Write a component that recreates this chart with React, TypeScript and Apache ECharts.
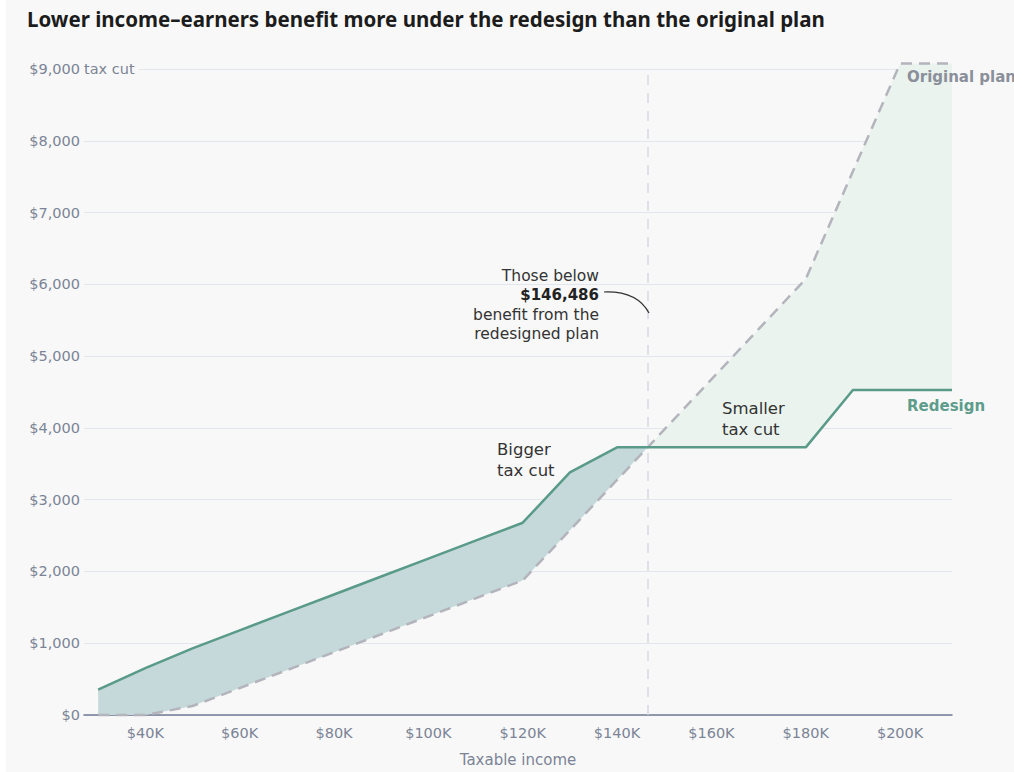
import React, { useEffect, useRef } from "react";
import * as echarts from "echarts";

const incomes = [30000, 40000, 50000, 60000, 70000, 80000, 90000, 100000, 110000, 120000, 130000, 140000, 146486, 150000, 160000, 170000, 180000, 190000, 200000, 211000];
const redesign = [354, 654, 929, 1179, 1429, 1679, 1929, 2179, 2429, 2679, 3379, 3729, 3729, 3729, 3729, 3729, 3729, 4529, 4529, 4529];
const original = [0, 0, 125, 375, 625, 875, 1125, 1375, 1625, 1875, 2575, 3275, 3729, 3975, 4675, 5375, 6075, 7575, 9075, 9075];
const xTicks = [40000, 60000, 80000, 100000, 120000, 140000, 160000, 180000, 200000];
const crossover = 146486;
const regionColors = ["#c5d9da", "#eaf3ee"];

export default function App() {
  const ref = useRef<HTMLDivElement>(null);
  useEffect(() => {
    document.body.style.margin = "0";
    const chart = echarts.init(ref.current!, null, { renderer: "svg" });
    const pair = (arr: number[]) => incomes.map((x, i) => [x, arr[i]]);
    const crossIdx = incomes.indexOf(crossover);
    const font = "'DejaVu Sans', sans-serif";
    chart.setOption({
      animation: false,
      backgroundColor: "#f8f8f8",
      grid: { left: 84, right: 62, top: 69, bottom: 56, containLabel: false },
      title: {
        text: "Lower income\u2013earners benefit more under the redesign than the original plan",
        left: 22,
        top: 3,
        textStyle: { fontFamily: "'Noto Sans', sans-serif", fontSize: 20.5, fontWeight: "bold", color: "#1c1c1c" },
      },
      xAxis: {
        type: "value",
        min: 27000,
        max: 211000,
        name: "Taxable income",
        nameLocation: "middle",
        nameGap: 37,
        nameTextStyle: { fontFamily: font, fontSize: 15, color: "#7b8496" },
        axisLine: { show: true, onZero: true, lineStyle: { color: "#6f7a92", width: 1.5 } },
        axisTick: { show: false },
        splitLine: { show: false },
        axisLabel: {
          customValues: xTicks,
          formatter: (v: number) => "$" + Math.round(v / 1000) + "K",
          fontFamily: font,
          fontSize: 14.5,
          color: "#7b8496",
          margin: 10,
        },
      },
      yAxis: {
        type: "value",
        min: 0,
        max: 9000,
        interval: 1000,
        axisLine: { show: false },
        axisTick: { show: false },
        splitLine: { lineStyle: { color: "#e2e6ed", width: 1.2 } },
        axisLabel: {
          formatter: (v: number) => "$" + v.toLocaleString("en-US"),
          fontFamily: font,
          fontSize: 14.5,
          color: "#7b8496",
          margin: 4,
        },
      },
      series: [
        {
          type: "custom",
          name: "gap",
          silent: true,
          data: [[incomes[0], 0], [crossover, 0]],
          encode: { x: 0, y: 1 },
          z: 2,
          renderItem: (params: any, api: any) => {
            const idx = params.dataIndex;
            const pts: number[][] = [];
            if (idx === 0) {
              for (let i = 0; i <= crossIdx; i++) pts.push(api.coord([incomes[i], redesign[i]]));
              for (let i = crossIdx; i >= 0; i--) pts.push(api.coord([incomes[i], original[i]]));
            } else {
              for (let i = crossIdx; i < incomes.length; i++) pts.push(api.coord([incomes[i], original[i]]));
              for (let i = incomes.length - 1; i >= crossIdx; i--) pts.push(api.coord([incomes[i], redesign[i]]));
            }
            return {
              type: "polygon",
              shape: { points: pts },
              style: { fill: regionColors[idx], stroke: "none" },
            };
          },
        },
        {
          type: "line",
          name: "Original plan",
          data: pair(original),
          symbol: "none",
          lineStyle: { color: "#b3b4bc", width: 2.5, type: [11, 7] },
          clip: false,
          z: 4,
          markLine: {
            silent: true,
            symbol: "none",
            label: { show: false },
            lineStyle: { color: "#d5d9e1", width: 1.5, type: [10, 8] },
            data: [{ xAxis: crossover }],
          },
          endLabel: {
            show: true,
            formatter: "Original plan",
            offset: [-53, 13],
            fontFamily: font,
            fontSize: 15,
            fontWeight: "bold",
            color: "#8a8f9a",
          },
        },
        {
          type: "line",
          name: "Redesign",
          data: pair(redesign),
          symbol: "none",
          lineStyle: { color: "#5a9a88", width: 2.5 },
          clip: false,
          z: 5,
          endLabel: {
            show: true,
            formatter: "Redesign",
            offset: [-53, 16],
            fontFamily: font,
            fontSize: 15,
            fontWeight: "bold",
            color: "#5e9c8b",
          },
        },
      ],
      graphic: [
        {
          type: "rect",
          left: 0,
          top: 0,
          shape: { width: 6, height: 772 },
          style: { fill: "#ffffff" },
          silent: true,
        },
        {
          type: "text",
          left: 84,
          top: 61,
          style: {
            text: "tax cut",
            font: "14.5px 'DejaVu Sans', sans-serif",
            fill: "#7b8496",
            backgroundColor: "#f8f8f8",
            padding: [0, 4, 0, 0],
          },
          z: 10,
        },
        {
          type: "text",
          x: 599,
          y: 266,
          style: {
            text: "Those below\n{b|$146,486}\nbenefit from the\nredesigned plan",
            align: "right",
            verticalAlign: "top",
            font: "15.5px 'DejaVu Sans', sans-serif",
            fill: "#333333",
            lineHeight: 19.5,
            rich: {
              b: { fontWeight: "bold", fontSize: 15, fontFamily: font, fill: "#222222", lineHeight: 19.5 },
            },
          },
          z: 10,
        },
        {
          type: "bezierCurve",
          shape: { x1: 604, y1: 292, x2: 649, y2: 313, cpx1: 630, cpy1: 291, cpx2: 643, cpy2: 302 },
          style: { stroke: "#333333", lineWidth: 1.2, fill: "none" },
          z: 10,
        },
        {
          type: "text",
          x: 497,
          y: 439,
          style: {
            text: "Bigger\ntax cut",
            font: "16.5px 'DejaVu Sans', sans-serif",
            fill: "#333333",
            lineHeight: 21,
          },
          z: 10,
        },
        {
          type: "text",
          x: 722,
          y: 398,
          style: {
            text: "Smaller\ntax cut",
            font: "16.5px 'DejaVu Sans', sans-serif",
            fill: "#333333",
            lineHeight: 21,
          },
          z: 10,
        },
      ],
    });
    return () => chart.dispose();
  }, []);
  return <div ref={ref} style={{ width: 1014, height: 772 }} />;
}
